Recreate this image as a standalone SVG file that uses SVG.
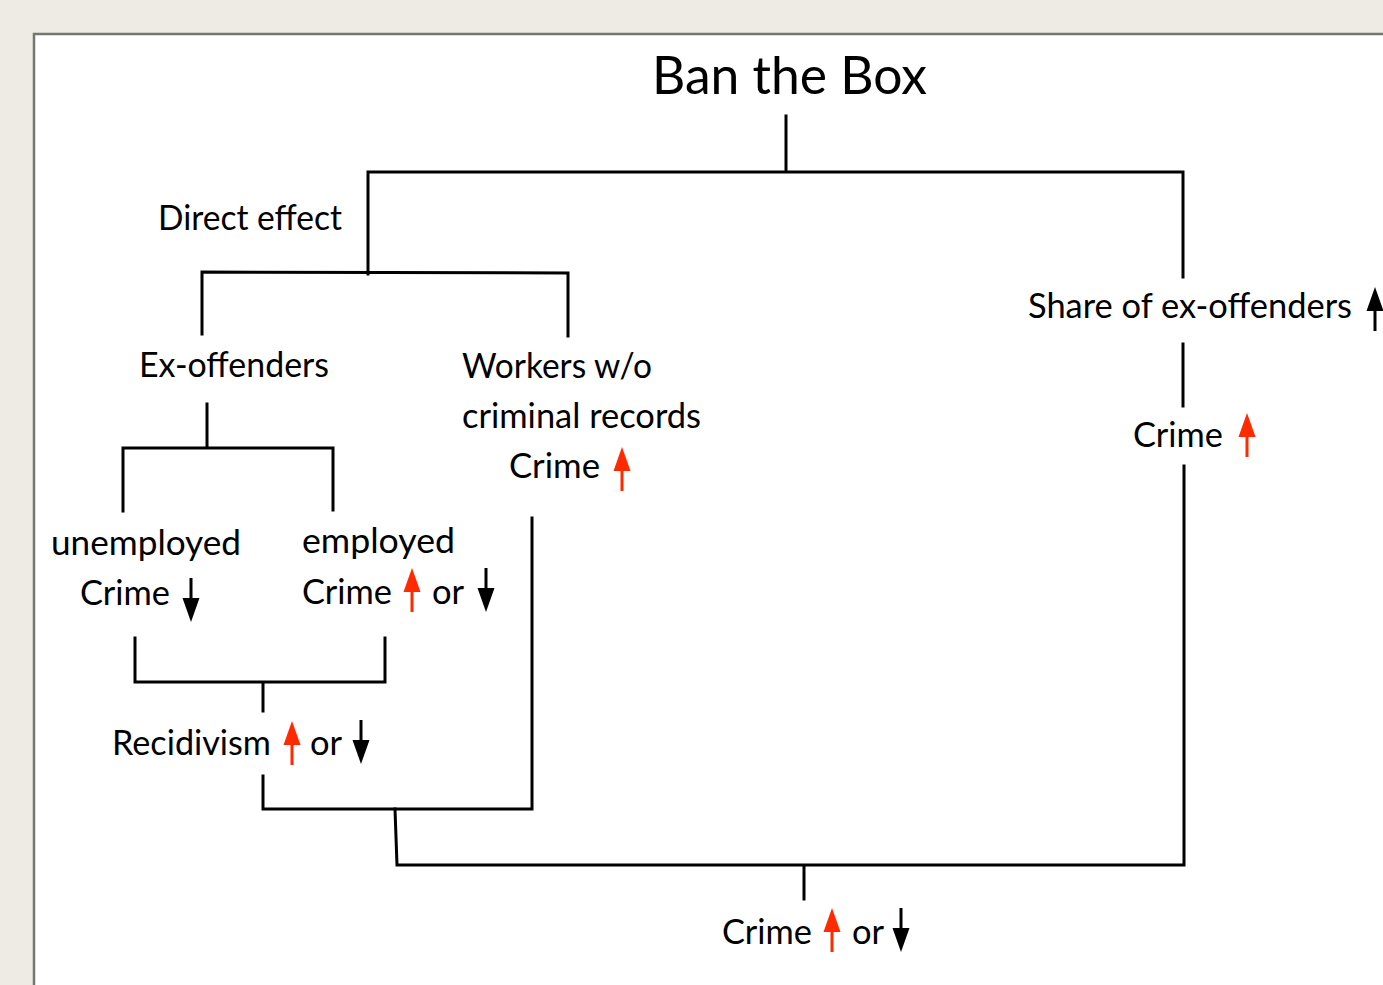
<svg xmlns="http://www.w3.org/2000/svg" xmlns:xlink="http://www.w3.org/1999/xlink" width="1383" height="985" viewBox="0 0 1383 985">
<style>
.t{font-family:Lato,"Noto Sans","Liberation Sans",sans-serif;font-size:34.5px;fill:#000}
.title{font-size:53px}
.c{fill:none;stroke:#000;stroke-width:3;stroke-linecap:square}
</style>
<defs>
<g id="up"><polygon points="0,0 -8.5,24 8.5,24"/><rect x="-1.5" y="22" width="3" height="22"/></g>
<g id="down"><rect x="-1.5" y="0" width="3" height="22"/><polygon points="0,44 -8.5,20 8.5,20"/></g>
</defs>
<rect x="0" y="0" width="1383" height="985" fill="#EEEBE5"/>
<rect x="34" y="34" width="1360" height="960" fill="#fff" stroke="#767670" stroke-width="2.5"/>
<g id="connectors" class="c">
<path d="M786,116V172M368,172H1183M368,172V274M1183,172V277"/>
<path d="M202,334V272L568,273V336"/>
<path d="M207,404V447M123,511V448H333V510"/>
<path d="M135,638V682H385V638M263,682V711"/>
<path d="M263,776V809H532V518"/>
<path d="M395,809L397,865H1184V466"/>
<path d="M1183,344V406"/>
<path d="M804,867V899"/>
</g>
<g id="title"><text class="t title" x="652" y="94" textLength="275" lengthAdjust="spacingAndGlyphs">Ban the Box</text></g>
<g id="direct"><text class="t" x="158" y="230" textLength="184" lengthAdjust="spacingAndGlyphs">Direct effect</text></g>
<g id="exoff"><text class="t" x="139" y="377" textLength="190" lengthAdjust="spacingAndGlyphs">Ex-offenders</text></g>
<g id="workers"><text class="t" x="462" y="378" textLength="190" lengthAdjust="spacingAndGlyphs">Workers w/o</text><text class="t" x="462" y="428" textLength="239" lengthAdjust="spacingAndGlyphs">criminal records</text><text class="t" x="509" y="478" textLength="91" lengthAdjust="spacingAndGlyphs">Crime</text><use href="#up" x="622" y="447" fill="#FF2A00"/></g>
<g id="unemployed"><text class="t" x="51" y="555" textLength="190" lengthAdjust="spacingAndGlyphs">unemployed</text><text class="t" x="80" y="605" textLength="90" lengthAdjust="spacingAndGlyphs">Crime</text><use href="#down" x="191" y="578" fill="#000"/></g>
<g id="employed"><text class="t" x="302" y="553" textLength="153" lengthAdjust="spacingAndGlyphs">employed</text><text class="t" x="302" y="604" textLength="90" lengthAdjust="spacingAndGlyphs">Crime</text><use href="#up" x="412" y="568" fill="#FF2A00"/><text class="t" x="432" y="604">or</text><use href="#down" x="486" y="568" fill="#000"/></g>
<g id="recid"><text class="t" x="112" y="755" textLength="159" lengthAdjust="spacingAndGlyphs">Recidivism</text><use href="#up" x="292" y="721" fill="#FF2A00"/><text class="t" x="310" y="755">or</text><use href="#down" x="361" y="720" fill="#000"/></g>
<g id="share"><text class="t" x="1028" y="318" textLength="324" lengthAdjust="spacingAndGlyphs">Share of ex-offenders</text><use href="#up" x="1375" y="287" fill="#000"/></g>
<g id="crimeR"><text class="t" x="1133" y="447" textLength="90" lengthAdjust="spacingAndGlyphs">Crime</text><use href="#up" x="1247" y="413" fill="#FF2A00"/></g>
<g id="crimeB"><text class="t" x="722" y="944" textLength="90" lengthAdjust="spacingAndGlyphs">Crime</text><use href="#up" x="832" y="908" fill="#FF2A00"/><text class="t" x="852" y="944">or</text><use href="#down" x="901" y="908" fill="#000"/></g>
</svg>
